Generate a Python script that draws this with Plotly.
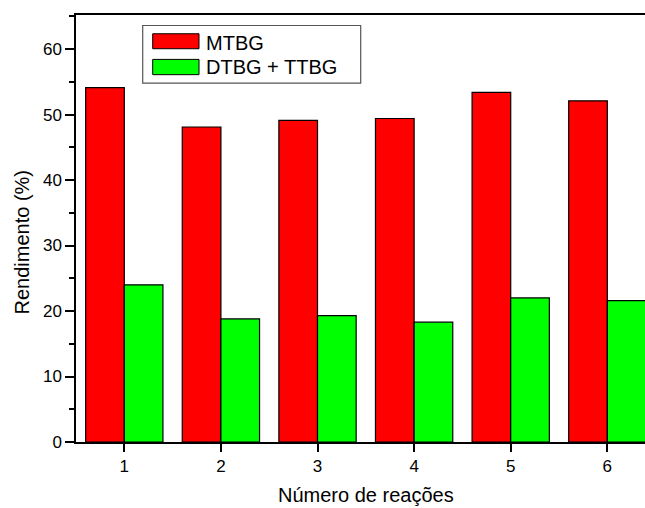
import plotly.graph_objects as go

categories = [1, 2, 3, 4, 5, 6]
mtbg = [54.1, 48.1, 49.1, 49.4, 53.4, 52.1]
dtbg_ttbg = [24.0, 18.8, 19.3, 18.3, 22.0, 21.6]
series_names = ["MTBG", "DTBG + TTBG"]
y_ticks = [0, 10, 20, 30, 40, 50, 60]

FONT = "Liberation Sans, Arial, sans-serif"
RED = "#ff0000"
GREEN = "#00ff00"

fig = go.Figure()
fig.add_trace(go.Bar(x=categories, y=mtbg, name=series_names[0], width=0.4, offset=-0.4,
                     marker=dict(color=RED, line=dict(color="black", width=1.2)), showlegend=False))
fig.add_trace(go.Bar(x=categories, y=dtbg_ttbg, name=series_names[1], width=0.4, offset=0.0,
                     marker=dict(color=GREEN, line=dict(color="black", width=1.2)), showlegend=False))

# Legend drawn manually (paper coordinates derived from pixel layout)
W, H = 645, 508
L, R, T, B = 76, 0, 14.5, 65.5
pw, ph = W - L - R, H - T - B

def px(x):
    return (x - L) / pw

def py(y):
    return (H - B - y) / ph

shapes = [
    dict(type="rect", xref="paper", yref="paper", x0=px(142.7), x1=px(360.7), y0=py(82.7), y1=py(25),
         line=dict(color="#555555", width=1.2), fillcolor="white", layer="above"),
    dict(type="rect", xref="paper", yref="paper", x0=px(152.7), x1=px(199), y0=py(48.3), y1=py(33.3),
         line=dict(color="black", width=1), fillcolor=RED, layer="above"),
    dict(type="rect", xref="paper", yref="paper", x0=px(152.7), x1=px(199), y0=py(74.3), y1=py(59),
         line=dict(color="black", width=1), fillcolor=GREEN, layer="above"),
]
annotations = [
    dict(text=series_names[0], xref="paper", yref="paper", x=px(204), y=py(42.5), xanchor="left", yanchor="middle",
         showarrow=False, font=dict(family=FONT, size=20, color="black")),
    dict(text=series_names[1], xref="paper", yref="paper", x=px(204), y=py(67), xanchor="left", yanchor="middle",
         showarrow=False, font=dict(family=FONT, size=20, color="black")),
    dict(text="Número de reações", xref="paper", yref="paper", x=px(366), y=py(496), xanchor="center",
         yanchor="middle", showarrow=False, font=dict(family=FONT, size=20, color="black")),
    dict(text="Rendimento (%)", xref="paper", yref="paper", x=px(22), y=py(242.5), xanchor="center",
         yanchor="middle", textangle=-90, showarrow=False, font=dict(family=FONT, size=20, color="black")),
]

fig.update_layout(
    width=W, height=H,
    margin=dict(l=L, r=R, t=T, b=B, pad=0),
    plot_bgcolor="white", paper_bgcolor="white",
    barmode="overlay",
    font=dict(family=FONT, size=17, color="black"),
    shapes=shapes, annotations=annotations,
)
fig.update_xaxes(range=[0.5, 6.39], tickvals=categories, ticks="outside", ticklen=8, tickwidth=1.5,
                 tickcolor="black", showline=True, linecolor="black", linewidth=1.5, mirror=True,
                 showgrid=False, zeroline=False, tickfont=dict(family=FONT, size=17))
fig.update_yaxes(range=[0, 65.2], tickvals=y_ticks, ticks="outside", ticklen=9, tickwidth=1.5,
                 tickcolor="black", showline=True, linecolor="black", linewidth=1.5,
                 showgrid=False, zeroline=False, tickfont=dict(family=FONT, size=17),
                 minor=dict(dtick=5, tick0=5, ticks="outside", ticklen=5, tickwidth=1.5, tickcolor="black",
                            showgrid=False))

fig.write_html("out.html")
